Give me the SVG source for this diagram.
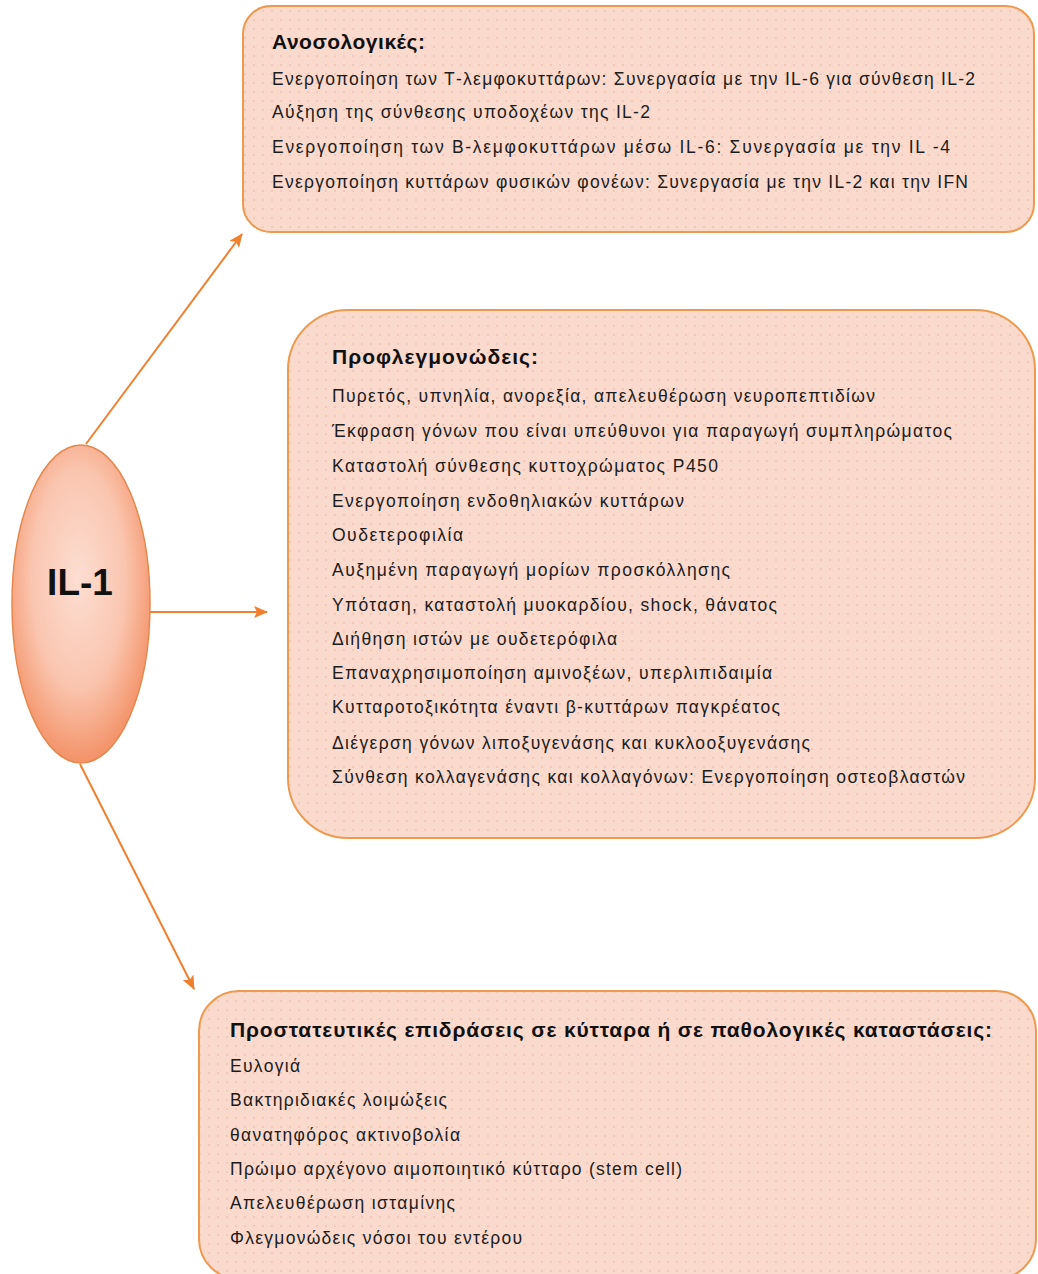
<svg xmlns="http://www.w3.org/2000/svg" width="1038" height="1274" viewBox="0 0 1038 1274">
  <style>
    .box { fill: url(#dots); stroke: #EE9A4E; stroke-width: 2; }
    .t { font-family: "Liberation Sans", Arial, sans-serif; font-size: 17.5px; fill: #1c1c1c; }
    .h { font-family: "Liberation Sans", Arial, sans-serif; font-size: 21px; font-weight: bold; fill: #111; }
    .c { stroke: #F07F2E; stroke-width: 2; fill: none; marker-end: url(#ah); }
  </style>
  <defs>
    <pattern id="dots" width="9" height="9" patternUnits="userSpaceOnUse">
      <rect width="9" height="9" fill="#FBDACE"/>
      <circle cx="2" cy="2" r="0.75" fill="#E6AE9E"/>
    </pattern>
    <radialGradient id="eg" cx="0.48" cy="0.42" r="0.62">
      <stop offset="0" stop-color="#FCDED2"/>
      <stop offset="0.55" stop-color="#FAC5AF"/>
      <stop offset="1" stop-color="#F28A5C"/>
    </radialGradient>
    <marker id="ah" markerWidth="14" markerHeight="12" refX="13" refY="6" orient="auto" markerUnits="userSpaceOnUse">
      <path d="M0,0 L14,6 L0,12 L3,6 Z" fill="#F07F2E"/>
    </marker>
  </defs>

  <g id="connectors">
    <line class="c" x1="86" y1="444" x2="242" y2="234"/>
    <line class="c" x1="150" y1="612" x2="267" y2="612"/>
    <line class="c" x1="80" y1="764" x2="194" y2="989"/>
  </g>

  <g id="il1">
    <ellipse cx="81" cy="604" rx="69" ry="159" fill="url(#eg)" stroke="#E5874C" stroke-width="1.5"/>
    <text x="80" y="595" text-anchor="middle" font-family="Liberation Sans, Arial, sans-serif" font-size="37" font-weight="bold" fill="#111">IL-1</text>
  </g>

  <g id="anosologikes">
    <rect class="box" x="243" y="6" width="791" height="226" rx="28"/>
    <text class="h" x="272" y="49" textLength="153" lengthAdjust="spacing">Ανοσολογικές:</text>
    <text class="t" x="272" y="85" textLength="703" lengthAdjust="spacing">Ενεργοποίηση των Τ-λεμφοκυττάρων: Συνεργασία με την IL-6 για σύνθεση IL-2</text>
    <text class="t" x="272" y="118" textLength="378" lengthAdjust="spacing">Αύξηση της σύνθεσης υποδοχέων της IL-2</text>
    <text class="t" x="272" y="153" textLength="678" lengthAdjust="spacing">Ενεργοποίηση των Β-λεμφοκυττάρων μέσω IL-6: Συνεργασία με την IL -4</text>
    <text class="t" x="272" y="188" textLength="696" lengthAdjust="spacing">Ενεργοποίηση κυττάρων φυσικών φονέων: Συνεργασία με την IL-2 και την IFN</text>
  </g>

  <g id="proflegmonodeis">
    <rect class="box" x="288" y="310" width="747" height="528" rx="60"/>
    <text class="h" x="332" y="364" textLength="206" lengthAdjust="spacing">Προφλεγμονώδεις:</text>
    <text class="t" x="332" y="402" textLength="543" lengthAdjust="spacing">Πυρετός, υπνηλία, ανορεξία, απελευθέρωση νευροπεπτιδίων</text>
    <text class="t" x="332" y="437" textLength="620" lengthAdjust="spacing">Έκφραση γόνων που είναι υπεύθυνοι για παραγωγή συμπληρώματος</text>
    <text class="t" x="332" y="472" textLength="386" lengthAdjust="spacing">Καταστολή σύνθεσης κυττοχρώματος P450</text>
    <text class="t" x="332" y="507" textLength="352" lengthAdjust="spacing">Ενεργοποίηση ενδοθηλιακών κυττάρων</text>
    <text class="t" x="332" y="541" textLength="131" lengthAdjust="spacing">Ουδετεροφιλία</text>
    <text class="t" x="332" y="576" textLength="398" lengthAdjust="spacing">Αυξημένη παραγωγή μορίων προσκόλλησης</text>
    <text class="t" x="332" y="611" textLength="445" lengthAdjust="spacing">Υπόταση, καταστολή μυοκαρδίου, shock, θάνατος</text>
    <text class="t" x="332" y="645" textLength="285" lengthAdjust="spacing">Διήθηση ιστών με ουδετερόφιλα</text>
    <text class="t" x="332" y="679" textLength="440" lengthAdjust="spacing">Επαναχρησιμοποίηση αμινοξέων, υπερλιπιδαιμία</text>
    <text class="t" x="332" y="713" textLength="448" lengthAdjust="spacing">Κυτταροτοξικότητα έναντι β-κυττάρων παγκρέατος</text>
    <text class="t" x="332" y="749" textLength="478" lengthAdjust="spacing">Διέγερση γόνων λιποξυγενάσης και κυκλοοξυγενάσης</text>
    <text class="t" x="332" y="783" textLength="633" lengthAdjust="spacing">Σύνθεση κολλαγενάσης και κολλαγόνων: Ενεργοποίηση οστεοβλαστών</text>
  </g>

  <g id="prostateutikes">
    <rect class="box" x="199" y="991" width="837" height="288" rx="40"/>
    <text class="h" x="230" y="1037" textLength="762" lengthAdjust="spacing">Προστατευτικές επιδράσεις σε κύτταρα ή σε παθολογικές καταστάσεις:</text>
    <text class="t" x="230" y="1072" textLength="70" lengthAdjust="spacing">Ευλογιά</text>
    <text class="t" x="230" y="1106" textLength="217" lengthAdjust="spacing">Βακτηριδιακές λοιμώξεις</text>
    <text class="t" x="230" y="1141" textLength="230" lengthAdjust="spacing">θανατηφόρος ακτινοβολία</text>
    <text class="t" x="230" y="1175" textLength="452" lengthAdjust="spacing">Πρώιμο αρχέγονο αιμοποιητικό κύτταρο (stem cell)</text>
    <text class="t" x="230" y="1209" textLength="225" lengthAdjust="spacing">Απελευθέρωση ισταμίνης</text>
    <text class="t" x="230" y="1244" textLength="292" lengthAdjust="spacing">Φλεγμονώδεις νόσοι του εντέρου</text>
  </g>
</svg>
